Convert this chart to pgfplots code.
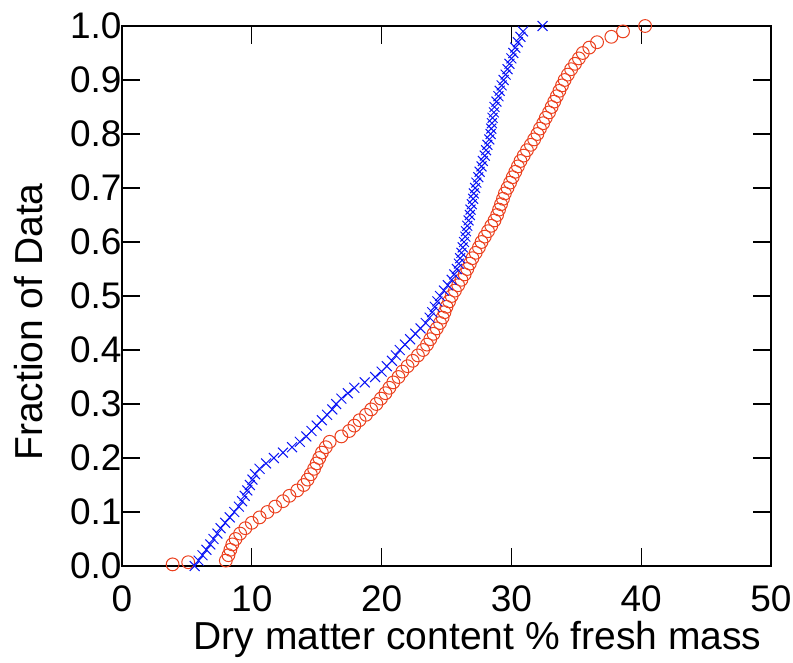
\documentclass[border=0pt]{standalone}
\usepackage{pgfplots}
\pgfplotsset{compat=1.18}
\usepackage{fontspec}
\setmainfont{Liberation Sans}
\definecolor{myred}{RGB}{235,64,30}
\definecolor{myblue}{RGB}{10,20,245}
\pgfplotstableread{
x y
5.6 0.00
5.9 0.01
6.2 0.02
6.5 0.03
6.8 0.04
7.05 0.05
7.35 0.06
7.6 0.07
7.95 0.08
8.3 0.09
8.65 0.10
9.0 0.11
9.25 0.12
9.45 0.13
9.65 0.14
9.85 0.15
10.05 0.16
10.25 0.17
10.6 0.18
11.1 0.19
11.7 0.20
12.4 0.21
13.1 0.22
13.7 0.23
14.2 0.24
14.6 0.25
15.0 0.26
15.4 0.27
15.8 0.28
16.2 0.29
16.5 0.30
16.9 0.31
17.4 0.32
17.9 0.33
18.7 0.34
19.5 0.35
20.0 0.36
20.4 0.37
20.8 0.38
21.1 0.39
21.4 0.40
21.8 0.41
22.2 0.42
22.6 0.43
23.0 0.44
23.4 0.45
23.7 0.46
23.9 0.47
24.1 0.48
24.3 0.49
24.5 0.50
24.8 0.51
25.1 0.52
25.4 0.53
25.6 0.54
25.8 0.55
25.95 0.56
26.05 0.57
26.15 0.58
26.25 0.59
26.35 0.60
26.45 0.61
26.5 0.62
26.6 0.63
26.7 0.64
26.8 0.65
26.85 0.66
26.95 0.67
27.05 0.68
27.1 0.69
27.2 0.70
27.3 0.71
27.45 0.72
27.55 0.73
27.7 0.74
27.8 0.75
27.95 0.76
28.05 0.77
28.15 0.78
28.3 0.79
28.4 0.80
28.45 0.81
28.5 0.82
28.55 0.83
28.65 0.84
28.7 0.85
28.85 0.86
29.0 0.87
29.1 0.88
29.25 0.89
29.4 0.90
29.55 0.91
29.7 0.92
29.85 0.93
30.0 0.94
30.15 0.95
30.3 0.96
30.5 0.97
30.7 0.98
30.9 0.99
32.4 1.00
}\bluedata
\pgfplotstableread{
x y
3.9 0.003
5.1 0.007
8.0 0.01
8.2 0.02
8.35 0.03
8.5 0.04
8.75 0.05
9.1 0.06
9.5 0.07
10.0 0.08
10.6 0.09
11.2 0.10
11.8 0.11
12.4 0.12
12.9 0.13
13.5 0.14
14.0 0.15
14.3 0.16
14.55 0.17
14.8 0.18
15.0 0.19
15.2 0.20
15.4 0.21
15.7 0.22
16.0 0.23
16.9 0.24
17.5 0.25
17.9 0.26
18.3 0.27
18.8 0.28
19.2 0.29
19.6 0.30
19.95 0.31
20.3 0.32
20.6 0.33
20.9 0.34
21.3 0.35
21.6 0.36
22.0 0.37
22.4 0.38
22.8 0.39
23.2 0.40
23.5 0.41
23.75 0.42
24.0 0.43
24.25 0.44
24.5 0.45
24.7 0.46
24.85 0.47
25.0 0.48
25.2 0.49
25.4 0.50
25.65 0.51
25.9 0.52
26.15 0.53
26.4 0.54
26.6 0.55
26.8 0.56
27.0 0.57
27.25 0.58
27.5 0.59
27.7 0.60
27.95 0.61
28.2 0.62
28.45 0.63
28.7 0.64
28.9 0.65
29.05 0.66
29.2 0.67
29.35 0.68
29.5 0.69
29.7 0.70
29.9 0.71
30.1 0.72
30.3 0.73
30.5 0.74
30.7 0.75
30.95 0.76
31.2 0.77
31.5 0.78
31.75 0.79
32.0 0.80
32.2 0.81
32.45 0.82
32.65 0.83
32.9 0.84
33.1 0.85
33.3 0.86
33.5 0.87
33.7 0.88
33.9 0.89
34.1 0.90
34.35 0.91
34.6 0.92
34.9 0.93
35.2 0.94
35.5 0.95
36.0 0.96
36.6 0.97
37.7 0.98
38.6 0.99
40.3 1.00
}\reddata
\begin{document}
\begin{tikzpicture}
\begin{axis}[
  at={(0,0)}, anchor=south west,
  scale only axis,
  width=649pt, height=540pt,
  xmin=0, xmax=50, ymin=0, ymax=1,
  xtick={0,10,20,30,40,50},
  ytick={0,0.1,0.2,0.3,0.4,0.5,0.6,0.7,0.8,0.9,1.0},
  tick align=inside,
  major tick length=18pt,
  tick style={black, line width=1.3pt},
  axis line style={black, line width=1.3pt},
  clip=false,
  /pgf/number format/assume math mode=true,
  yticklabel style={/pgf/number format/fixed, /pgf/number format/fixed zerofill, /pgf/number format/precision=1},
  ticklabel style={font=\fontsize{37}{44}\selectfont},
  xticklabel style={yshift=-16pt},
  yticklabel style={xshift=3pt},
  label style={font=\fontsize{39}{46}\selectfont},
  xlabel={Dry matter content \% fresh mass},
  ylabel={Fraction of Data},
  xlabel style={at={(axis description cs:0.5,0)}, anchor=center, yshift=-73pt, xshift=31pt},
  ylabel style={at={(axis description cs:0,0.5)}, anchor=center, yshift=93pt, xshift=-26pt},
]
\addplot[only marks, mark=o, mark size=6.4pt, color=myred, mark options={line width=1pt}] table[x=x,y=y] {\reddata};
\addplot[only marks, mark=x, mark size=7pt, color=myblue, mark options={line width=1pt}] table[x=x,y=y] {\bluedata};
\end{axis}
\pgfresetboundingbox
\path (-122pt,-96pt) rectangle (671pt,566pt);
\end{tikzpicture}
\end{document}
